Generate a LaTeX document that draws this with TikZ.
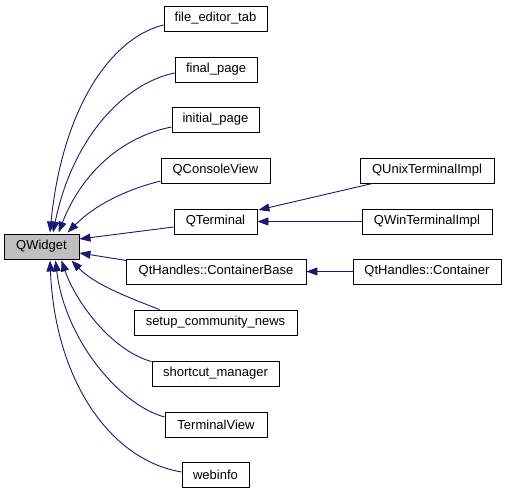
\documentclass[tikz,border=0pt]{standalone}
\usepackage{fontspec}
\setmainfont{Liberation Sans}
\usetikzlibrary{arrows.meta,calc}
\definecolor{edgeblue}{HTML}{191970}
\definecolor{basegray}{HTML}{BFBFBF}
\begin{document}
\begin{tikzpicture}[x=1pt,y=-1pt,
  box/.style={draw=black,line width=0.9pt,fill=white,inner sep=0pt,minimum height=25pt,
    font=\fontsize{13}{15}\selectfont},
  edge/.style={draw=edgeblue,line width=0.9pt,-{Triangle[length=11pt,width=8pt]}}]
\useasboundingbox (0,0) rectangle (507,493);
% nodes
\node[box,minimum width=103pt] (fet) at (215.5,18.5) {file\_editor\_tab};
\node[box,minimum width=82pt] (fp) at (216,69.5) {final\_page};
\node[box,minimum width=87pt] (ip) at (215.5,119.5) {initial\_page};
\node[box,minimum width=109pt] (qcv) at (215.5,170.5) {QConsoleView};
\node[box,minimum width=83pt] (qt) at (215.5,221.5) {QTerminal};
\node[box,minimum width=75pt,fill=basegray] (qw) at (41.5,246.5) {QWidget};
\node[box,minimum width=180pt] (cb) at (216,271.5) {QtHandles::ContainerBase};
\node[box,minimum width=163pt] (scn) at (215.5,322.5) {setup\_community\_news};
\node[box,minimum width=127pt] (sm) at (215.5,373.5) {shortcut\_manager};
\node[box,minimum width=102pt] (tv) at (216,424.5) {TerminalView};
\node[box,minimum width=67pt] (wi) at (215.5,474.5) {webinfo};
\node[box,minimum width=134pt] (qu) at (427,170.5) {QUnixTerminalImpl};
\node[box,minimum width=130pt] (qwi) at (427,221.5) {QWinTerminalImpl};
\node[box,minimum width=148pt] (con) at (427,271.5) {QtHandles::Container};
% edges
\draw[edge] ($(fet.west)+(0,6.5)$) .. controls (110,38) and (62,110) .. ($(qw.north)+(8.5,-1)$);
\draw[edge] ($(fp.west)+(0,3.5)$) .. controls (122,84) and (72,140) .. ($(qw.north)+(11.5,-1)$);
\draw[edge] ($(ip.west)+(0,7.5)$) .. controls (130,135) and (85,165) .. ($(qw.north)+(17,-1)$);
\draw[edge] ($(qcv.west)+(0,10.5)$) .. controls (125,190) and (95,205) .. ($(qw.north)+(26,-1)$);
\draw[edge] ($(qt.west)+(0,5.5)$) -- ($(qw.east)+(0,-7.5)$);
\draw[edge] ($(cb.west)+(1,-11)$) -- ($(qw.east)+(0,6.5)$);
\draw[edge] ($(scn.north west)+(26,0)$) .. controls (130,298) and (95,285) .. ($(qw.south)+(30,1)$);
\draw[edge] ($(sm.north west)+(0,1)$) .. controls (110,350) and (75,300) .. ($(qw.south)+(20,1)$);
\draw[edge] ($(tv.west)+(0,-7.5)$) .. controls (120,405) and (65,340) .. ($(qw.south)+(14,1)$);
\draw[edge] ($(wi.west)+(0,-2.5)$) .. controls (110,460) and (55,380) .. ($(qw.south)+(8.5,1)$);
\draw[edge] ($(qu.south west)+(13,0)$) -- ($(qt.east)+(1,-11.5)$);
\draw[edge] (qwi.west) -- (qt.east);
\draw[edge] (con.west) -- (cb.east);
\end{tikzpicture}
\end{document}
